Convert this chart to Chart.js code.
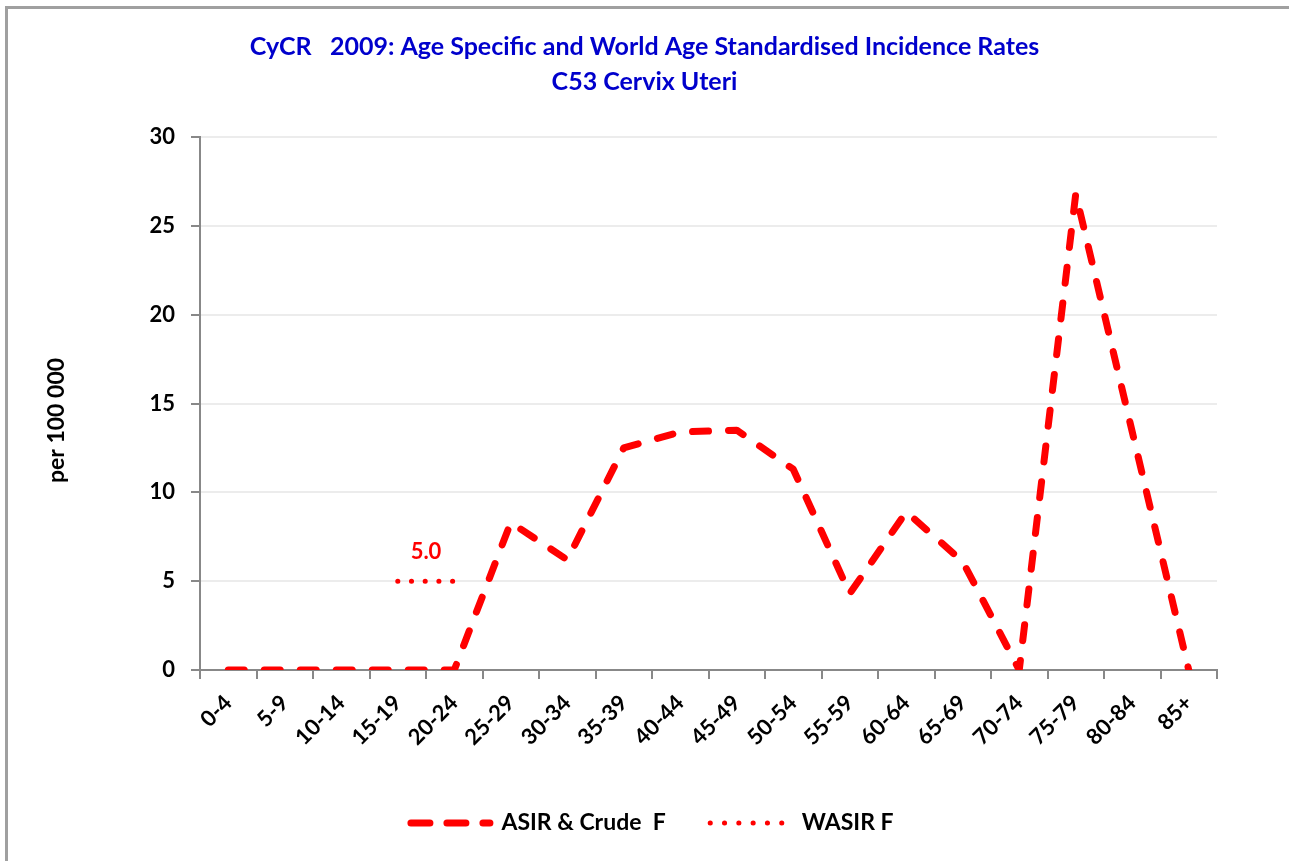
<!DOCTYPE html>
<html lang="en">
<head>
<meta charset="UTF-8">
<title>CyCR 2009 Cervix Uteri</title>
<script src="https://cdn.jsdelivr.net/npm/chart.js"></script>
<style>
    body { margin: 0; background: #fff; }
    #wrap { position: relative; width: 1289px; height: 861px; overflow: hidden; }
    #frame {
        position: absolute; left: 5px; top: 6px; width: 1400px; height: 1000px;
        border-left: 3px solid #a0a0a0; border-top: 3px solid #a0a0a0;
    }
    #chart { position: absolute; left: 0; top: 0; }
</style>
</head>
<body>
<div id="wrap">
    <div id="frame"></div>
    <canvas id="chart" width="1289" height="861"></canvas>
</div>

<script>
    // age groups and rates per 100 000
    var ageGroups = ['0-4', '5-9', '10-14', '15-19', '20-24', '25-29', '30-34', '35-39', '40-44',
                     '45-49', '50-54', '55-59', '60-64', '65-69', '70-74', '75-79', '80-84', '85+'];
    var asirCrude = [0, 0, 0, 0, 0, 8.3, 6.2, 12.5, 13.4, 13.5, 11.3, 4.3, 8.9, 6.1, 0, 26.8, 13.4, 0];
    var wasir = [null, null, null, 5.0, 5.0, null, null, null, null,
                 null, null, null, null, null, null, null, null, null];
    var yTicks = [0, 5, 10, 15, 20, 25, 30];
    var yTitle = 'per 100 000';

    var font = 'Lato, "Open Sans", sans-serif';

    // writes the WASIR value above its dotted line
    var wasirLabel = {
        id: 'wasirLabel',
        afterDatasetsDraw: function(chart) {
            var meta = chart.getDatasetMeta(1);
            var pts = [];
            meta.data.forEach(function(p, i) {
                if (wasir[i] !== null) pts.push({ x: p.x, y: p.y, v: wasir[i] });
            });
            if (!pts.length) return;
            var x = (pts[0].x + pts[pts.length - 1].x) / 2;
            var ctx = chart.ctx;
            ctx.save();
            ctx.fillStyle = '#ff0000';
            ctx.font = 'bold 22px ' + font;
            ctx.textAlign = 'center';
            ctx.textBaseline = 'middle';
            ctx.fillText(pts[0].v.toFixed(1), x, pts[0].y - 29);
            ctx.restore();
        }
    };

    // y title sits a little below the middle of the axis in the original
    var sideTitle = {
        id: 'sideTitle',
        afterDraw: function(chart) {
            var a = chart.chartArea;
            var ctx = chart.ctx;
            ctx.save();
            ctx.translate(a.left - 143, (a.top + a.bottom) / 2 + 17);
            ctx.rotate(-Math.PI / 2);
            ctx.fillStyle = '#000';
            ctx.font = 'bold 23px ' + font;
            ctx.textAlign = 'center';
            ctx.textBaseline = 'middle';
            ctx.fillText(yTitle, 0, 0);
            ctx.restore();
        }
    };

    // legend drawn by hand so the dash patterns show
    var lineLegend = {
        id: 'lineLegend',
        afterDraw: function(chart) {
            var ctx = chart.ctx;
            var ds = chart.data.datasets;
            var items = [
                { ds: ds[0], len: 79, dash: [19, 17], gap: 8 },
                { ds: ds[1], len: 72, dash: [0.1, 14.2], gap: 17 }
            ];
            ctx.save();
            ctx.font = 'bold 23px ' + font;
            var spacing = 42, total = 0;
            items.forEach(function(it) {
                it.tw = ctx.measureText(it.ds.label).width;
                it.w = it.ds.borderWidth + it.len + it.gap + it.tw;
                total += it.w;
            });
            total += spacing;
            var x = chart.width / 2 - total / 2 + 6;
            var y = chart.height - 38;
            items.forEach(function(it) {
                var half = it.ds.borderWidth / 2;
                ctx.strokeStyle = it.ds.borderColor;
                ctx.lineWidth = it.ds.borderWidth;
                ctx.lineCap = 'round';
                ctx.setLineDash(it.dash);
                ctx.beginPath();
                ctx.moveTo(x + half, y);
                ctx.lineTo(x + half + it.len, y);
                ctx.stroke();
                ctx.setLineDash([]);
                ctx.fillStyle = '#000';
                ctx.textAlign = 'left';
                ctx.textBaseline = 'middle';
                ctx.fillText(it.ds.label, x + it.ds.borderWidth + it.len + it.gap, y);
                x += it.w + spacing;
            });
            ctx.restore();
        }
    };

    new Chart(document.getElementById('chart').getContext('2d'), {
        type: 'line',
        data: {
            labels: ageGroups,
            datasets: [{
                label: 'ASIR & Crude  F',
                data: asirCrude,
                borderColor: '#ff0000',
                backgroundColor: '#ff0000',
                borderWidth: 7,
                borderDash: [16, 20],
                borderCapStyle: 'round',
                borderJoinStyle: 'round',
                pointRadius: 0,
                tension: 0,
                fill: false
            }, {
                label: 'WASIR F',
                data: wasir,
                borderColor: '#ff0000',
                backgroundColor: '#ff0000',
                borderWidth: 5,
                borderDash: [0.1, 13.6],
                borderCapStyle: 'round',
                pointRadius: 0,
                fill: false
            }]
        },
        options: {
            responsive: false,
            animation: false,
            layout: { padding: { left: 8, right: 8, top: 0, bottom: 81 } },
            plugins: {
                title: {
                    display: true,
                    text: ['CyCR   2009: Age Specific and World Age Standardised Incidence Rates', 'C53 Cervix Uteri'],
                    color: '#0000cc',
                    font: { family: font, size: 25, weight: 'bold', lineHeight: 1.4 },
                    padding: { top: 29, bottom: 38 }
                },
                legend: { display: false },
                tooltip: { enabled: false }
            },
            scales: {
                x: {
                    offset: true,
                    grid: {
                        offset: true,
                        drawOnChartArea: false,
                        color: '#888',
                        lineWidth: 2,
                        tickLength: 9
                    },
                    border: { color: '#888', width: 2 },
                    ticks: {
                        minRotation: 45,
                        maxRotation: 45,
                        color: '#000',
                        padding: 11,
                        font: { family: font, size: 22, weight: 'bold' }
                    },
                    afterFit: function(s) { s.height = 110; }
                },
                y: {
                    min: 0,
                    max: 30,
                    afterBuildTicks: function(s) { s.ticks = yTicks.map(function(v) { return { value: v }; }); },
                    grid: {
                        color: '#ececec',
                        lineWidth: 2,
                        tickColor: '#888',
                        tickLength: 9
                    },
                    border: { color: '#888', width: 2 },
                    ticks: {
                        color: '#000',
                        padding: 16,
                        font: { family: font, size: 22, weight: 'bold' }
                    },
                    afterFit: function(s) { s.width = 192; }
                },
                // empty right axis, only holds the right margin
                yRight: {
                    position: 'right',
                    min: 0,
                    max: 30,
                    grid: { drawOnChartArea: false, drawTicks: false },
                    border: { display: false },
                    ticks: { display: false },
                    afterFit: function(s) { s.width = 64; }
                }
            }
        },
        plugins: [wasirLabel, sideTitle, lineLegend]
    });
</script>
</body>
</html>
